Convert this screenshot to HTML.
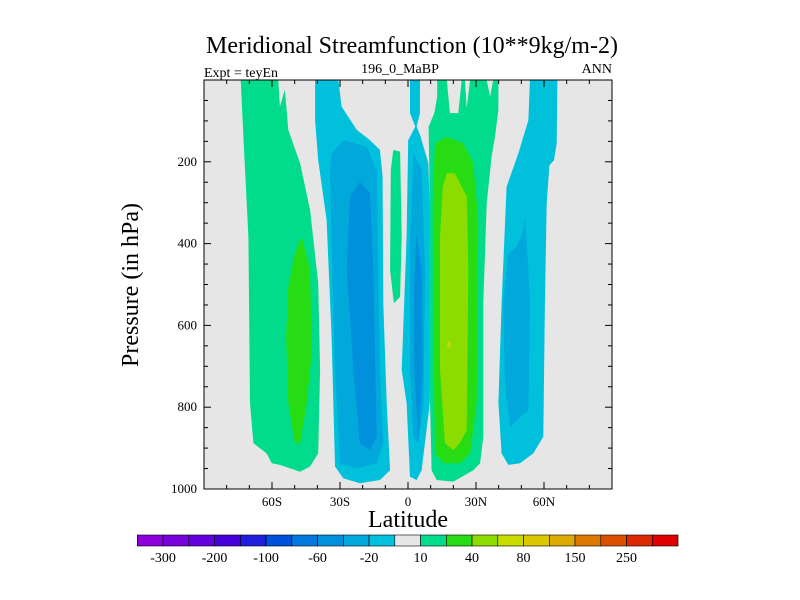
<!DOCTYPE html>
<html><head><meta charset="utf-8"><style>
body{margin:0;background:#fff;}
svg{display:block;font-family:"Liberation Serif",serif;}
</style></head><body>
<svg id="chart" width="800" height="600" viewBox="0 0 800 600"></svg>
<script>
// ---- data ----
const levelColors = ["#8c00dc","#7800dc","#6400dc","#4600dc","#1e1edc","#0050dc","#0078dc","#0090dc","#00a8dc","#00c0dc","#e6e6e6","#00dc8c","#28dc14","#8cdc00","#c8dc00","#dcc800","#dcaa00","#dc7800","#dc5000","#dc2800","#dc0000"];
const levelLabels = ["-300","-200","-100","-60","-20","10","40","80","150","250"];
const yTickValues = [200,400,600,800,1000];
const xTickValues = [-60,-30,0,30,60];
const xTickLabels = ["60S","30S","0","30N","60N"];
// contour regions: [colorIndex, [[lat, pressure], ...]]
const regionSHGreen = [11,[[-73.8,0],[-57.2,0],[-56.5,65],[-54.3,24],[-52.8,122],[-47.6,204],[-43.2,318],[-39.6,497],[-38.8,709],[-39.6,913],[-43.2,945],[-47.6,958],[-56.5,941],[-60.1,937],[-62.4,913],[-68.2,888],[-69.7,790],[-70.4,383],[-72.6,139]]];
const regionSHGreen40 = [12,[[-46.9,383],[-43.2,465],[-42.5,668],[-44.7,790],[-47.6,888],[-49.9,888],[-52.8,790],[-53.8,627],[-52.8,505],[-49.9,424]]];
const regionSHBlue20 = [9,[[-41,0],[-30.7,0],[-29.3,65],[-22.6,122],[-16.8,147],[-12.4,171],[-11.2,236],[-10.9,546],[-9.4,790],[-7.9,954],[-12.4,978],[-21.2,986],[-28.5,974],[-32.2,945],[-33.7,628],[-35.9,342],[-39.6,196],[-41,98]]];
const regionSHBlue60 = [8,[[-33.7,179],[-28.5,147],[-18.2,163],[-13.8,220],[-13.1,465],[-12.4,709],[-10.9,888],[-13.8,937],[-22.6,950],[-30,937],[-32.2,709],[-33.7,383],[-34.4,220]]];
const regionSHBlue100 = [7,[[-25.6,285],[-21.2,249],[-16.8,277],[-15.3,465],[-13.8,872],[-16.8,905],[-21.2,888],[-24.1,709],[-27,465]]];
const regionEqGreen = [11,[[-6.5,171],[-3.5,175],[-2.8,383],[-3.5,530],[-6.2,546],[-7.9,465],[-7.6,220]]];
const regionEqBlue20 = [9,[[0.9,0],[5.3,0],[5.3,81],[3.8,114],[5.3,134],[9,204],[9.9,383],[9.6,790],[6,954],[3.8,978],[0.9,970],[-0.6,790],[-2.8,709],[-0.6,383],[0.1,147],[3.2,114],[0.9,81]]];
const regionEqBlue60 = [8,[[2.4,179],[6,220],[7.5,465],[6.8,790],[4.6,888],[2.4,872],[0.9,709],[0.9,383]]];
const regionEqBlue100 = [7,[[3.8,375],[6,465],[6.5,709],[4.6,872],[2.8,709],[2.6,505]]];
const regionNHGreen = [11,[[12.9,0],[17.1,0],[18.5,81],[22.2,81],[23.7,0],[25.1,0],[25.9,69],[27.4,0],[34.7,0],[36.2,41],[37.6,0],[39.9,0],[39.9,73],[38.4,139],[36.9,187],[34.7,302],[33.2,546],[33.2,872],[31.8,937],[28.8,954],[20,982],[12.6,978],[10.4,954],[9.4,709],[9.4,220],[9.1,114],[11.6,81],[12.9,41]]];
const regionNHGreen40 = [12,[[11.9,155],[17.1,139],[24.4,155],[28.8,204],[31,342],[30.3,790],[27.4,913],[22.9,937],[15.6,937],[11.9,913],[11.2,628],[10.9,302]]];
const regionNHGreen80 = [13,[[17.1,228],[20.7,228],[25.9,285],[26.6,465],[25.9,856],[22.9,888],[20,905],[16.3,888],[14.1,709],[14.1,383],[15.3,261]]];
const regionNHYellow = [14,[[17.1,648],[18.5,636],[18.8,658]]];
const regionNHBlue20 = [9,[[53.8,0],[65.9,0],[65.6,155],[64.4,196],[62.4,208],[61.2,302],[60.4,546],[59.7,872],[55.3,913],[49.4,937],[44.3,941],[41.3,913],[39.9,790],[41.3,546],[43.5,261],[48.7,179],[53.1,98]]];
const regionNHBlue60 = [8,[[51.6,334],[53.1,465],[53.8,546],[53.1,807],[50.6,819],[45,848],[42.8,750],[42,546],[44.3,424],[48,407],[50.9,367]]];

// ---- drawing ----
const svg = document.getElementById('chart');
const NS = "http://www.w3.org/2000/svg";
const X0=204, X1=612, Y0=80, Y1=489;
function xScale(lat){ return X0 + (lat+90)/180*(X1-X0); }
function yScale(p){ return Y0 + p/1000*(Y1-Y0); }
function mk(tag, attrs, parent){ const e=document.createElementNS(NS,tag); for(const k in attrs) e.setAttribute(k,attrs[k]); (parent||svg).appendChild(e); return e; }

const bg = mk('rect',{x:X0,y:Y0,width:X1-X0,height:Y1-Y0,fill:levelColors[10]});



const regions = [
 ['sh-green-10',regionSHGreen],['sh-green-40',regionSHGreen40],
 ['sh-blue-20',regionSHBlue20],['sh-blue-60',regionSHBlue60],['sh-blue-100',regionSHBlue100],
 ['eq-green-10',regionEqGreen],['eq-blue-20',regionEqBlue20],['eq-blue-60',regionEqBlue60],['eq-blue-100',regionEqBlue100],
 ['nh-green-10',regionNHGreen],['nh-green-40',regionNHGreen40],['nh-green-80',regionNHGreen80],['nh-yellow-spot',regionNHYellow],
 ['nh-blue-20',regionNHBlue20],['nh-blue-60',regionNHBlue60]
];
const clip = mk('clipPath',{id:'pc'}); mk('rect',{x:X0,y:Y0,width:X1-X0,height:Y1-Y0},clip);
const g = mk('g',{'clip-path':'url(#pc)'});
regions.forEach(([name,[ci,pts]])=>{
  const d = pts.map(([la,p])=>xScale(la).toFixed(1)+','+yScale(p).toFixed(1)).join(' ');
  const poly = mk('polygon',{points:d,fill:levelColors[ci]},g);
  
  
});
mk('rect',{x:X0,y:Y0,width:X1-X0,height:Y1-Y0,fill:'none',stroke:'#000','stroke-width':1});

// y ticks
for(let p=0;p<=1000;p+=50){
  const y=yScale(p), major=p%200===0, L=major?7:4;
  mk('line',{x1:X0,x2:X0+L,y1:y,y2:y,stroke:'#000'});
  mk('line',{x1:X1,x2:X1-L,y1:y,y2:y,stroke:'#000'});
}
yTickValues.forEach(v=>{
  const t=mk('text',{x:X0-7,y:yScale(v)+4,'text-anchor':'end','font-size':13});
  t.textContent=v;
  
  
});
for(let la=-80;la<=80;la+=10){
  const x=xScale(la), major=la%30===0, L=major?7:4;
  mk('line',{x1:x,x2:x,y1:Y1,y2:Y1-L,stroke:'#000'});
  mk('line',{x1:x,x2:x,y1:Y0,y2:Y0+L,stroke:'#000'});
}
xTickValues.forEach((v,i)=>{
  const t=mk('text',{x:xScale(v),y:Y1+17,'text-anchor':'middle','font-size':13});
  t.textContent=xTickLabels[i];
  
  
});

// colorbar
const CB0=137.3, CBW=25.75, CBY=535, CBH=11;
levelColors.forEach((c,i)=>{
  const r=mk('rect',{x:CB0+i*CBW,y:CBY,width:CBW,height:CBH,fill:c,stroke:'#000','stroke-width':0.6});
  
  
});
levelLabels.forEach((l,i)=>{
  const t=mk('text',{x:CB0+(2*i+1)*CBW,y:CBY+27,'text-anchor':'middle','font-size':14});
  t.textContent=l;
  
  
});
</script>
<svg style="position:absolute;left:0;top:0" width="800" height="600">
<text x="412" y="53" text-anchor="middle" font-size="24" font-family="Liberation Serif, serif">Meridional Streamfunction (10**9kg/m-2)</text>
<text x="204" y="77" font-size="14" font-family="Liberation Serif, serif">Expt = teyEn</text>
<text x="400" y="73" text-anchor="middle" font-size="14" font-family="Liberation Serif, serif">196_0_MaBP</text>
<text x="612" y="73" text-anchor="end" font-size="14" font-family="Liberation Serif, serif">ANN</text>
<text x="408" y="527" text-anchor="middle" font-size="24" font-family="Liberation Serif, serif">Latitude</text>
<text transform="translate(138,285) rotate(-90)" text-anchor="middle" font-size="24" font-family="Liberation Serif, serif">Pressure (in hPa)</text>
</svg>
</body></html>
